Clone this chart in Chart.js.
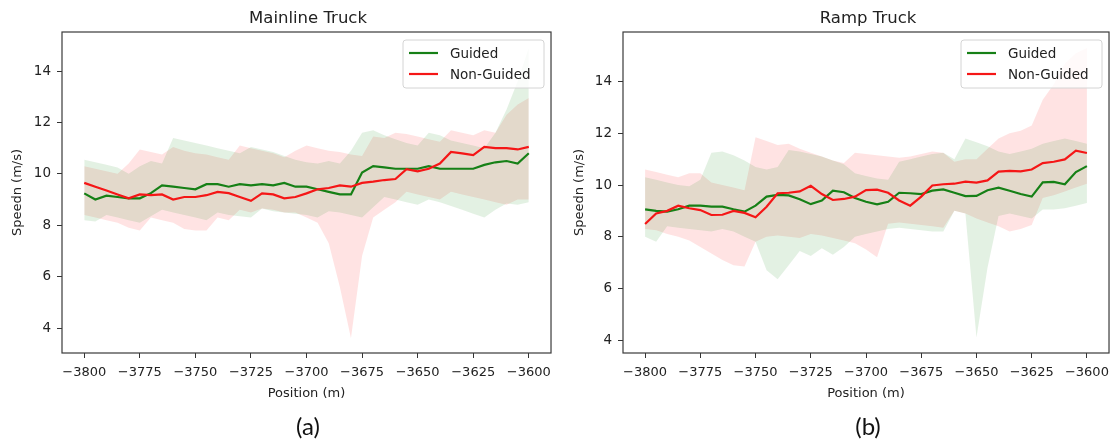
<!DOCTYPE html>
<html>
<head>
<meta charset="utf-8">
<script src="https://cdn.jsdelivr.net/npm/chart.js@4.4.0/dist/chart.umd.min.js"></script>
<style>
  body { margin: 0; background: #fff; width: 1116px; height: 442px; position: relative; overflow: hidden; font-family: "DejaVu Sans", sans-serif; }
  .panel { position: absolute; top: 0; width: 558px; height: 420px; }
  .title { position: absolute; top: 8px; width: 300px; text-align: center; font-size: 16.5px; line-height: 20px; color: #222; }
  .tag { position: absolute; top: 411px; width: 100px; text-align: center; font-family: Lato, "Open Sans", sans-serif; font-size: 24px; line-height: 30px; color: #111; }
</style>
</head>
<body>
<div class="panel" style="left:0"><canvas id="mainline" width="558" height="420"></canvas></div>
<div class="panel" style="left:558px"><canvas id="ramp" width="558" height="420"></canvas></div>
<div class="title" style="left:158px">Mainline Truck</div>
<div class="title" style="left:718px">Ramp Truck</div>
<div class="tag" style="left:258px">(a)</div>
<div class="tag" style="left:818px">(b)</div>
<script>
// position along the road, every 5 m
const positions = [-3800, -3795, -3790, -3785, -3780, -3775, -3770, -3765, -3760, -3755,
  -3750, -3745, -3740, -3735, -3730, -3725, -3720, -3715, -3710, -3705,
  -3700, -3695, -3690, -3685, -3680, -3675, -3670, -3665, -3660, -3655,
  -3650, -3645, -3640, -3635, -3630, -3625, -3620, -3615, -3610, -3605, -3600];
const xTicks = [-3800, -3775, -3750, -3725, -3700, -3675, -3650, -3625, -3600];
const yTicks = [4, 6, 8, 10, 12, 14];
const seriesLabels = ['Guided', 'Non-Guided'];

// Mainline truck
const mainGuided = [9.24, 9.0, 9.15, 9.1, 9.05, 9.05, 9.25, 9.55, 9.5, 9.45, 9.4, 9.6, 9.6, 9.5, 9.6, 9.55, 9.6, 9.55, 9.65, 9.5,
  9.5, 9.4, 9.3, 9.2, 9.2, 10.05, 10.3, 10.25, 10.2, 10.2, 10.2, 10.3, 10.2, 10.2, 10.2, 10.2, 10.35, 10.45, 10.5, 10.4, 10.8];
const mainNonGuided = [9.65, 9.5, 9.35, 9.2, 9.05, 9.2, 9.17, 9.2, 9.0, 9.1, 9.1, 9.17, 9.3, 9.25, 9.1, 8.95, 9.24, 9.2, 9.05, 9.1,
  9.24, 9.4, 9.45, 9.55, 9.5, 9.65, 9.7, 9.76, 9.8, 10.18, 10.1, 10.2, 10.4, 10.85, 10.8, 10.73, 11.05, 11.0, 11.0, 10.95, 11.05];
const mainGuidedHi = [10.55, 10.45, 10.35, 10.25, 10.0, 10.3, 10.5, 10.4, 11.4, 11.3, 11.2, 11.1, 11.0, 10.9, 10.8, 11.05, 10.95, 10.85, 10.7, 10.55,
  10.45, 10.4, 10.5, 10.4, 10.9, 11.6, 11.7, 11.5, 11.35, 11.2, 11.1, 11.6, 11.5, 11.3, 11.2, 11.1, 11.0, 11.6, 12.5, 13.6, 14.9];
const mainGuidedLo = [8.2, 8.15, 8.4, 8.3, 8.2, 8.1, 8.35, 8.6, 8.5, 8.4, 8.3, 8.2, 8.5, 8.4, 8.35, 8.3, 8.65, 8.55, 8.5, 8.45,
  8.4, 8.3, 8.55, 8.5, 8.4, 8.3, 8.7, 9.1, 9.0, 8.9, 8.8, 9.0, 8.9, 8.75, 8.6, 8.45, 8.3, 8.6, 8.85, 8.8, 8.9];
const mainNonGuidedHi = [10.3, 10.2, 10.1, 10.0, 10.4, 10.95, 10.85, 10.75, 11.05, 10.9, 10.8, 10.75, 10.65, 10.55, 11.1, 11.0, 10.9, 10.8, 10.65, 10.9,
  11.1, 11.0, 10.9, 10.85, 10.75, 10.7, 11.45, 11.4, 11.6, 11.55, 11.45, 11.35, 11.25, 11.7, 11.6, 11.5, 11.7, 11.6, 12.3, 12.7, 12.95];
const mainNonGuidedLo = [8.4, 8.3, 8.2, 8.1, 7.9, 7.8, 8.3, 8.2, 8.1, 7.85, 7.8, 7.8, 8.3, 8.2, 8.6, 8.5, 8.65, 8.6, 8.5, 8.5,
  8.3, 8.1, 7.3, 5.6, 3.6, 6.8, 8.3, 8.6, 8.9, 9.3, 9.2, 9.1, 9.0, 9.3, 9.2, 9.1, 9.0, 8.9, 8.8, 9.0, 9.0];

// Ramp truck
const rampGuided = [9.06, 9.0, 8.97, 9.06, 9.2, 9.2, 9.16, 9.16, 9.06, 8.97, 9.2, 9.55, 9.62, 9.6, 9.45, 9.26, 9.4, 9.78, 9.72, 9.5,
  9.35, 9.25, 9.35, 9.7, 9.68, 9.65, 9.78, 9.83, 9.7, 9.57, 9.58, 9.8, 9.9, 9.78, 9.65, 9.55, 10.1, 10.12, 10.03, 10.5, 10.73];
const rampNonGuided = [8.49, 8.9, 9.0, 9.2, 9.1, 9.03, 8.84, 8.85, 9.0, 8.92, 8.75, 9.16, 9.68, 9.7, 9.75, 9.97, 9.65, 9.42, 9.46, 9.55,
  9.8, 9.82, 9.7, 9.4, 9.2, 9.55, 9.98, 10.03, 10.05, 10.13, 10.09, 10.18, 10.52, 10.55, 10.53, 10.6, 10.85, 10.9, 10.99, 11.33, 11.24];
const rampGuidedHi = [10.3, 10.2, 10.1, 10.0, 9.95, 10.2, 11.25, 11.3, 11.15, 10.95, 10.7, 10.6, 10.7, 11.35, 11.3, 11.2, 11.1, 10.95, 10.8, 10.45,
  10.35, 10.25, 10.2, 10.9, 11.0, 11.1, 11.2, 11.25, 11.0, 11.8, 11.65, 11.5, 11.3, 11.2, 11.3, 11.4, 11.6, 11.7, 11.8, 11.7, 11.6];
const rampGuidedLo = [8.0, 7.8, 8.4, 8.35, 8.3, 8.25, 8.2, 8.3, 8.2, 8.0, 7.8, 6.7, 6.35, 6.9, 7.45, 7.25, 7.55, 7.3, 7.6, 8.0,
  8.1, 8.2, 8.3, 8.35, 8.3, 8.25, 8.2, 8.2, 9.0, 8.9, 4.1, 6.8, 8.8, 8.9, 8.8, 8.7, 9.05, 9.05, 9.1, 9.2, 9.3];
const rampNonGuidedHi = [10.6, 10.5, 10.4, 10.3, 10.45, 10.45, 10.1, 10.0, 9.9, 9.8, 11.85, 11.7, 11.55, 11.6, 11.4, 11.25, 11.1, 10.95, 10.85, 11.25,
  11.2, 11.15, 11.1, 11.05, 11.1, 11.2, 11.3, 11.25, 10.9, 11.0, 11.0, 11.4, 11.8, 12.0, 12.1, 12.3, 13.3, 13.9, 14.7, 15.1, 15.3];
const rampNonGuidedLo = [8.3, 8.25, 8.1, 8.0, 7.85, 7.6, 7.35, 7.1, 6.9, 6.85, 7.8, 8.0, 8.05, 8.0, 7.95, 8.1, 8.05, 7.95, 7.85, 7.75,
  7.5, 7.2, 8.5, 8.55, 8.5, 8.45, 8.4, 8.35, 9.0, 8.9, 8.7, 8.55, 8.4, 8.2, 8.3, 8.45, 9.5, 9.6, 9.75, 9.9, 10.05];

const GREEN = 'rgb(22, 128, 22)';
const RED = 'rgb(245, 22, 22)';
const GREEN_FILL = 'rgba(0, 128, 0, 0.11)';
const RED_FILL = 'rgba(255, 0, 0, 0.11)';

Chart.defaults.font.family = '"DejaVu Sans", sans-serif';
Chart.defaults.font.size = 13;
Chart.defaults.color = '#222';

const pts = vals => positions.map((x, i) => ({ x: x, y: vals[i] }));

// box around the axes, like matplotlib spines
const frame = {
  id: 'frame',
  afterDatasetsDraw(chart) {
    const a = chart.chartArea, ctx = chart.ctx;
    ctx.save();
    ctx.strokeStyle = '#3a3a3a';
    ctx.lineWidth = 1.2;
    ctx.strokeRect(a.left, a.top, a.right - a.left, a.bottom - a.top);
    ctx.restore();
  }
};

const legendBox = {
  id: 'legendBox',
  afterDraw(chart) {
    const a = chart.chartArea, ctx = chart.ctx;
    const w = 141, h = 48;
    const left = a.right - 7 - w, top = a.top + 8;
    ctx.save();
    ctx.beginPath();
    ctx.roundRect(left, top, w, h, 3);
    ctx.fillStyle = 'rgba(255,255,255,0.8)';
    ctx.fill();
    ctx.strokeStyle = '#d4d4d4';
    ctx.lineWidth = 1;
    ctx.stroke();
    ctx.font = '13.5px "DejaVu Sans"';
    ctx.textBaseline = 'middle';
    chart.data.datasets.filter(d => d.inLegend).forEach((d, i) => {
      const y = top + 13 + i * 21;
      ctx.beginPath();
      ctx.moveTo(left + 6, y);
      ctx.lineTo(left + 35, y);
      ctx.strokeStyle = d.borderColor;
      ctx.lineWidth = 2.2;
      ctx.stroke();
      ctx.fillStyle = '#222';
      ctx.fillText(d.label, left + 47, y + 1);
    });
    ctx.restore();
  }
};

function band(vals, color, fill) {
  return {
    data: pts(vals), borderWidth: 0, borderColor: 'rgba(0,0,0,0)', backgroundColor: color,
    pointRadius: 0, fill: fill ? '+1' : false, order: 3
  };
}

function buildPanel(id, s, yMin, yMax, yWidth, padLeft, padRight) {
  new Chart(document.getElementById(id), {
    type: 'line',
    data: {
      datasets: [
        { label: seriesLabels[0], inLegend: true, data: pts(s.guided), borderColor: GREEN, borderWidth: 2.2, pointRadius: 0, fill: false, order: 1 },
        { label: seriesLabels[1], inLegend: true, data: pts(s.nonGuided), borderColor: RED, borderWidth: 2.2, pointRadius: 0, fill: false, order: 0 },
        band(s.guidedHi, GREEN_FILL, true),
        band(s.guidedLo, GREEN_FILL, false),
        band(s.nonGuidedHi, RED_FILL, true),
        band(s.nonGuidedLo, RED_FILL, false)
      ]
    },
    options: {
      responsive: false,
      animation: false,
      layout: { padding: { top: 32, left: padLeft, right: padRight, bottom: 15 } },
      plugins: {
        legend: { display: false },
        tooltip: { enabled: false }
      },
      scales: {
        x: {
          type: 'linear',
          min: -3810,
          max: -3590,
          afterBuildTicks: sc => { sc.ticks = xTicks.map(v => ({ value: v })); },
          afterFit: sc => { sc.height = 52; },
          ticks: { autoSkip: false, maxRotation: 0, padding: 7, callback: v => String(v).replace('-', '\u2212') },
          grid: { drawOnChartArea: false, drawTicks: true, tickLength: 5, color: '#333' },
          border: { display: false },
          title: { display: true, text: 'Position (m)', padding: { top: 4, bottom: 4 } }
        },
        y: {
          type: 'linear',
          min: yMin,
          max: yMax,
          afterBuildTicks: sc => { sc.ticks = yTicks.map(v => ({ value: v })); },
          afterFit: sc => { sc.width = yWidth; },
          ticks: { padding: 6, font: { size: 13.5 } },
          grid: { drawOnChartArea: false, drawTicks: true, tickLength: 5, color: '#333' },
          border: { display: false },
          title: { display: true, text: 'Speedn (m/s)', padding: { top: 4, bottom: 4 } }
        }
      }
    },
    plugins: [frame, legendBox]
  });
}

buildPanel('mainline', {
  guided: mainGuided, nonGuided: mainNonGuided,
  guidedHi: mainGuidedHi, guidedLo: mainGuidedLo,
  nonGuidedHi: mainNonGuidedHi, nonGuidedLo: mainNonGuidedLo
}, 3.03, 15.52, 56, 6, 5);

buildPanel('ramp', {
  guided: rampGuided, nonGuided: rampNonGuided,
  guidedHi: rampGuidedHi, guidedLo: rampGuidedLo,
  nonGuidedHi: rampNonGuidedHi, nonGuidedLo: rampNonGuidedLo
}, 3.5, 15.92, 55, 10, 2);
</script>
</body>
</html>
